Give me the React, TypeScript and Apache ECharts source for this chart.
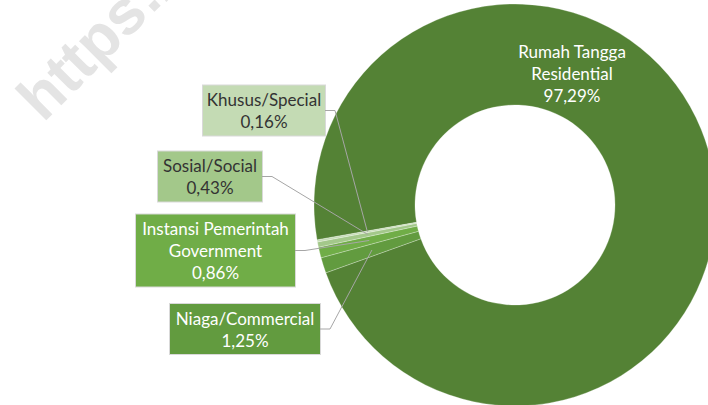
import React, { useEffect, useRef } from "react";
import * as echarts from "echarts";

// ---- data ----
const categories = [
  "Rumah Tangga\nResidential",
  "Niaga/Commercial",
  "Instansi Pemerintah\nGovernment",
  "Sosial/Social",
  "Khusus/Special",
];
const shares = [97.29, 1.25, 0.86, 0.43, 0.16];

// ---- styles / layout ----
const sliceColors = ["#548235", "#629b3f", "#70ad47", "#a3c88a", "#c4dbb4"];
const labelTextColors = ["#ffffff", "#ffffff", "#ffffff", "#333333", "#333333"];
const CX = 515;
const CY = 205;
const R_IN = 100;
const R_OUT = 201;
const R_LINE = 150;
const START_ANGLE = 190;
// label box centres and widths (layout only)
const labelBoxes = [
  { x: 572, y: 73, w: 160 },
  { x: 245, y: 329, w: 150 },
  { x: 215.5, y: 250.5, w: 159 },
  { x: 210, y: 176.5, w: 104 },
  { x: 264, y: 110.5, w: 122 },
];

const fmt = (v: number) => v.toFixed(2).replace(".", ",") + "%";

// leader lines derived from the slice angles
function leaderLines() {
  const total = shares.reduce((a, b) => a + b, 0);
  let cum = 0;
  const out: any[] = [];
  shares.forEach((v, i) => {
    const mid = START_ANGLE - ((cum + v / 2) / total) * 360;
    cum += v;
    if (i === 0) return;
    const rad = (mid * Math.PI) / 180;
    const px = CX + R_LINE * Math.cos(rad);
    const py = CY - R_LINE * Math.sin(rad);
    const b = labelBoxes[i];
    const right = b.x + b.w / 2;
    out.push({
      type: "polyline",
      z: 100,
      silent: true,
      shape: { points: [[right, b.y], [right + 10, b.y], [px, py]] },
      style: { stroke: "#a6a6a6", lineWidth: 1, fill: "none" },
    });
  });
  return out;
}

export default function App() {
  const ref = useRef<HTMLDivElement>(null);
  useEffect(() => {
    if (!ref.current) return;
    const chart = echarts.init(ref.current, undefined, { renderer: "svg" });
    const option: any = {
      animation: false,
      backgroundColor: "#ffffff",
      graphic: [
        {
          type: "text",
          x: 28,
          y: 108,
          rotation: Math.PI / 4,
          z: -10,
          style: {
            text: "https://",
            font: "bold 62px 'Liberation Sans', Arial, sans-serif",
            fill: "#e4e4e4",
            align: "left",
            verticalAlign: "middle",
          },
        },
        ...leaderLines(),
      ],
      series: [
        {
          type: "pie",
          center: [CX, CY],
          radius: [R_IN, R_OUT],
          startAngle: START_ANGLE,
          clockwise: true,
          avoidLabelOverlap: false,
          itemStyle: { borderColor: "rgba(255,255,255,0.45)", borderWidth: 0.6 },
          data: categories.map((name, i) => ({
            name,
            value: shares[i],
            itemStyle: { color: sliceColors[i] },
            label:
              i === 0
                ? { position: "inside", color: labelTextColors[i], width: labelBoxes[i].w }
                : {
                    position: "outside",
                    color: labelTextColors[i],
                    backgroundColor: sliceColors[i],
                    borderColor: "#d9d9d9",
                    borderWidth: 1,
                    width: labelBoxes[i].w,
                  },
          })),
          label: {
            show: true,
            formatter: (p: any) => `${p.name}\n${fmt(p.value)}`,
            fontFamily: "Lato",
            fontSize: 17,
            lineHeight: 22,
            align: "center",
            padding: [3, 0],
          },
          labelLine: { show: false },
          labelLayout: (params: any) => {
            const b = labelBoxes[params.dataIndex];
            return { x: b.x, y: b.y, align: "center", verticalAlign: "middle" };
          },
        },
      ],
    };
    chart.setOption(option);
    return () => chart.dispose();
  }, []);
  return (
    <div
      ref={ref}
      style={{ position: "fixed", left: 0, top: 0, width: 708, height: 405 }}
    />
  );
}
